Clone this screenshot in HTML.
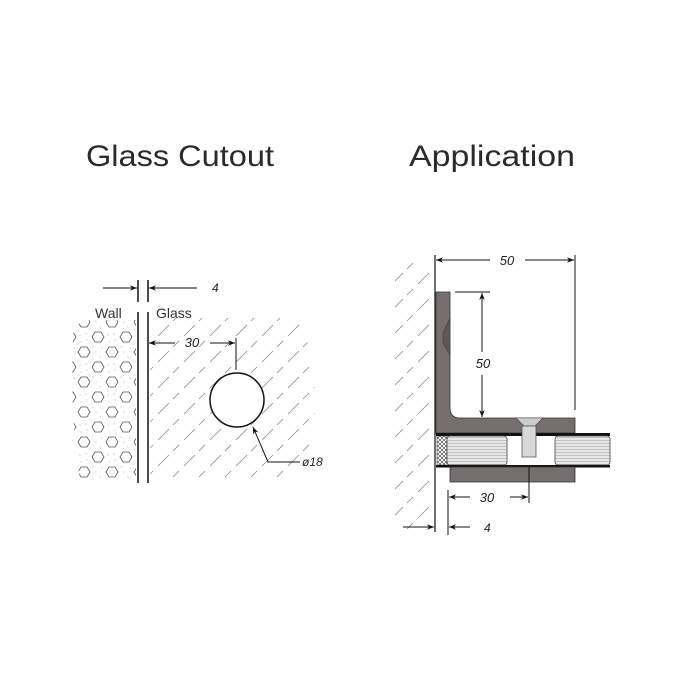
<!DOCTYPE html>
<html><head><meta charset="utf-8"><style>body{margin:0;background:#fff}svg{display:block}</style></head>
<body>
<svg width="700" height="700" viewBox="0 0 700 700" xmlns="http://www.w3.org/2000/svg" font-family="Liberation Sans, sans-serif">
<defs>
<pattern id="hatch" width="26" height="26" patternUnits="userSpaceOnUse">
<line x1="2" y1="24" x2="13" y2="13" stroke="#888" stroke-width="0.8"/>
<line x1="17" y1="9" x2="23" y2="3" stroke="#888" stroke-width="0.8"/>
</pattern>
<pattern id="hex" width="28" height="30" patternUnits="userSpaceOnUse">
<polygon points="8,7 11,2 17,2 20,7 17,12 11,12" fill="none" stroke="#555" stroke-width="0.8"/>
<polygon points="-6,22 -3,17 3,17 6,22 3,27 -3,27" fill="none" stroke="#555" stroke-width="0.8"/>
<polygon points="22,22 25,17 31,17 34,22 31,27 25,27" fill="none" stroke="#555" stroke-width="0.8"/>
<circle cx="3" cy="10" r="0.5" fill="#999"/><circle cx="24" cy="5" r="0.5" fill="#999"/><circle cx="12" cy="22" r="0.5" fill="#999"/><circle cx="16" cy="27" r="0.5" fill="#999"/><circle cx="2" cy="4" r="0.5" fill="#999"/><circle cx="25" cy="12" r="0.5" fill="#999"/><circle cx="9" cy="17" r="0.5" fill="#999"/><circle cx="18" cy="18" r="0.5" fill="#999"/>
</pattern>
<marker id="ar" viewBox="0 0 10 10" refX="10" refY="5" markerWidth="11" markerHeight="7" orient="auto-start-reverse" markerUnits="userSpaceOnUse"><path d="M0,1 L10,5 L0,9 L3,5 z" fill="#111"/></marker>
<pattern id="xh" width="4" height="4" patternUnits="userSpaceOnUse"><path d="M0,0 L4,4 M4,0 L0,4" stroke="#333" stroke-width="0.6"/></pattern>
<pattern id="gl" width="10" height="3" patternUnits="userSpaceOnUse"><rect width="10" height="3" fill="#e8e8e8"/><line x1="0" y1="2.5" x2="10" y2="2.5" stroke="#aaa" stroke-width="0.6"/></pattern>
</defs>
<rect width="700" height="700" fill="#fff"/>
<text x="180" y="166" font-size="30" text-anchor="middle" fill="#2a2a2a" textLength="188" lengthAdjust="spacingAndGlyphs">Glass Cutout</text>
<text x="492" y="166" font-size="30" text-anchor="middle" fill="#2a2a2a" textLength="166" lengthAdjust="spacingAndGlyphs">Application</text>

<!-- Left diagram -->
<path d="M74,325 Q68,400 80,480 L136,480 L136,320 L90,320 Z" fill="url(#hex)"/>
<path d="M150,318 L300,318 Q330,400 300,480 L150,480 Z" fill="url(#hatch)"/>
<rect x="88" y="300" width="44" height="18" fill="#fff"/>
<rect x="152" y="300" width="48" height="18" fill="#fff"/>
<g stroke="#111" stroke-width="1.5" fill="none">
<line x1="138" y1="280" x2="138" y2="302"/><line x1="138" y1="312" x2="138" y2="483"/>
<line x1="148" y1="280" x2="148" y2="302"/><line x1="148" y1="312" x2="148" y2="483"/>
</g>
<g stroke="#111" stroke-width="1" fill="none">
<line x1="103" y1="288" x2="137" y2="288" marker-end="url(#ar)"/>
<line x1="197" y1="288" x2="149" y2="288" marker-end="url(#ar)"/>
<line x1="175" y1="343" x2="149" y2="343" marker-end="url(#ar)"/>
<line x1="210" y1="343" x2="235" y2="343" marker-end="url(#ar)"/>
<line x1="236" y1="338" x2="236" y2="370"/>
<polyline points="300,462 268,462 253,427" marker-end="url(#ar)"/>
</g>
<circle cx="237" cy="400" r="27" fill="#fff" stroke="#111" stroke-width="1.5"/>
<text x="212" y="292" font-size="12" font-style="italic" fill="#222">4</text>
<text x="95" y="318" font-size="14" fill="#333">Wall</text>
<text x="156" y="318" font-size="14" fill="#333">Glass</text>
<text x="192" y="347" font-size="13" font-style="italic" text-anchor="middle" fill="#222">30</text>
<text x="302" y="466" font-size="12" font-style="italic" fill="#222">ø18</text>

<!-- Right diagram -->
<path d="M395,265 L433,255 L433,530 L395,530 Z" fill="url(#hatch)"/>
<line x1="435" y1="255" x2="435" y2="532" stroke="#111" stroke-width="1.2"/>
<path d="M436,292 L450,292 L450,408 Q450,418 460,418 L575,418 L575,433 L436,433 Z" fill="#776f6f" stroke="#333" stroke-width="0.8"/>
<path d="M450,318 L443,333 L443,343 L450,355 Z" fill="#5f5858" stroke="#333" stroke-width="0.5"/>
<path d="M516,418 L543,418 L535,426 L524,426 Z" fill="#ccc" stroke="#444" stroke-width="0.6"/>
<rect x="436" y="433" width="174" height="3" fill="#111"/>
<rect x="437" y="436" width="10" height="29" fill="url(#xh)" stroke="#333" stroke-width="0.5"/>
<rect x="447" y="436" width="60" height="29" rx="3" fill="url(#gl)" stroke="#444" stroke-width="0.8"/>
<rect x="555" y="436" width="55" height="29" rx="3" fill="url(#gl)" stroke="#444" stroke-width="0.8"/>
<rect x="522" y="426" width="14" height="31" fill="#d8d8d8" stroke="#555" stroke-width="0.8"/>
<rect x="436" y="465" width="174" height="2.5" fill="#111"/>
<rect x="450" y="467" width="125" height="15" fill="#776f6f" stroke="#333" stroke-width="0.8"/>
<g stroke="#111" stroke-width="1" fill="none">
<line x1="490" y1="260" x2="436" y2="260" marker-end="url(#ar)"/>
<line x1="525" y1="260" x2="574" y2="260" marker-end="url(#ar)"/>
<line x1="575" y1="255" x2="575" y2="410"/>
<line x1="455" y1="292" x2="490" y2="292"/>
<line x1="482" y1="352" x2="482" y2="293" marker-end="url(#ar)"/>
<line x1="482" y1="375" x2="482" y2="417" marker-end="url(#ar)"/>
<line x1="529" y1="467" x2="529" y2="503"/>
<line x1="448" y1="490" x2="448" y2="535"/>
<line x1="470" y1="497" x2="449" y2="497" marker-end="url(#ar)"/>
<line x1="510" y1="497" x2="528" y2="497" marker-end="url(#ar)"/>
<line x1="403" y1="527" x2="434" y2="527" marker-end="url(#ar)"/>
<line x1="470" y1="527" x2="449" y2="527" marker-end="url(#ar)"/>
</g>
<text x="507" y="265" font-size="13" font-style="italic" text-anchor="middle" fill="#222">50</text>
<text x="483" y="368" font-size="13" font-style="italic" text-anchor="middle" fill="#222">50</text>
<text x="487" y="502" font-size="13" font-style="italic" text-anchor="middle" fill="#222">30</text>
<text x="484" y="532" font-size="12" font-style="italic" fill="#222">4</text>
</svg>
</body></html>
